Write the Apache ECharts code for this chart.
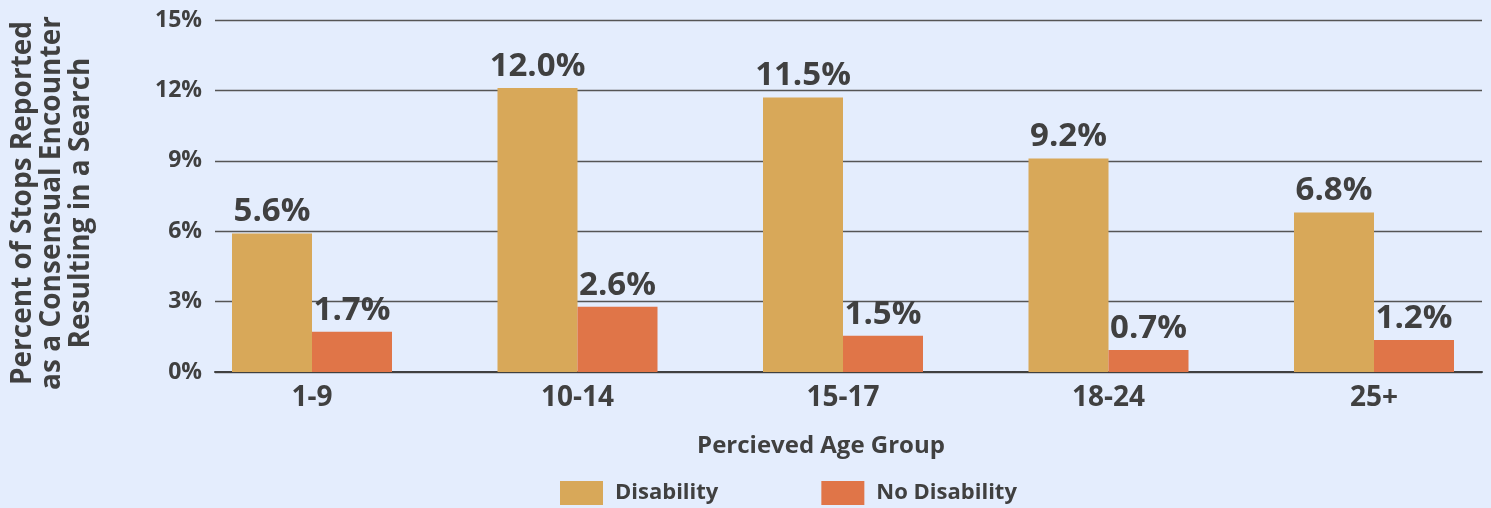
<!DOCTYPE html>
<html>
<head>
<meta charset="utf-8">
<script src="https://cdn.jsdelivr.net/npm/echarts@6/dist/echarts.min.js"></script>
<style>
html,body{margin:0;padding:0;background:#e4edfd;}
#c{width:1491px;height:508px;}
</style>
</head>
<body>
<div id="c"></div>
<script>
const categories = ['1-9', '10-14', '15-17', '18-24', '25+'];
const disability = [5.9, 12.1, 11.7, 9.1, 6.8];
const noDisability = [1.72, 2.78, 1.55, 0.94, 1.36];
const disabilityLabels = ['5.6%', '12.0%', '11.5%', '9.2%', '6.8%'];
const noDisabilityLabels = ['1.7%', '2.6%', '1.5%', '0.7%', '1.2%'];
const yTicks = [0, 3, 6, 9, 12, 15];
const seriesNames = ['Disability', 'No Disability'];
const yTitle = 'Percent of Stops Reported\nas a Consensual Encounter\nResulting in a Search';
const xTitle = 'Percieved Age Group';

const FONT = '"Open Sans", "Noto Sans", sans-serif';
const TXT = '#404040';

const chart = echarts.init(document.getElementById('c'));
const labelStyle = {
  show: true, position: 'top', distance: 5,
  fontFamily: FONT, fontWeight: 'bold', fontSize: 33, color: TXT
};
chart.setOption({
  backgroundColor: '#e4edfd',
  animation: false,
  grid: [
    {left: 215, right: 9, top: 20, bottom: 136},
    {left: 312, width: 1062, top: 20, bottom: 136}
  ],
  legend: {
    left: 560, top: 481, padding: 0,
    itemWidth: 43, itemHeight: 24, itemGap: 103,
    icon: 'rect',
    data: seriesNames,
    textStyle: {fontFamily: FONT, fontWeight: 'bold', fontSize: 22, color: TXT, padding: [0, 0, 0, 7]}
  },
  xAxis: [
    {gridIndex: 0, type: 'category', data: categories,
     axisLine: {show: true, lineStyle: {color: '#404040', width: 2}},
     axisTick: {show: false}, axisLabel: {show: false}, splitLine: {show: false}},
    {gridIndex: 1, type: 'category', data: categories, boundaryGap: false,
     axisLine: {show: false}, axisTick: {show: false}, splitLine: {show: false},
     axisLabel: {show: true, margin: 12, fontFamily: FONT, fontWeight: 'bold', fontSize: 28, color: TXT}}
  ],
  yAxis: [
    {gridIndex: 0, type: 'value', min: yTicks[0], max: yTicks[yTicks.length - 1], interval: yTicks[1] - yTicks[0],
     axisLine: {show: false}, axisTick: {show: false},
     axisLabel: {margin: 13, formatter: '{value}%', fontFamily: FONT, fontWeight: 'bold', fontSize: 23, color: TXT},
     splitLine: {show: true, lineStyle: {color: '#555555', width: 1.3}}},
    {gridIndex: 1, type: 'value', min: yTicks[0], max: yTicks[yTicks.length - 1], show: false}
  ],
  series: [
    {name: seriesNames[0], type: 'bar', xAxisIndex: 1, yAxisIndex: 1, data: disability, clip: false,
     barWidth: 80, barGap: '0%', itemStyle: {color: '#d8a859'},
     label: Object.assign({}, labelStyle, {formatter: p => disabilityLabels[p.dataIndex]})},
    {name: seriesNames[1], type: 'bar', xAxisIndex: 1, yAxisIndex: 1, data: noDisability, clip: false,
     barWidth: 80, barGap: '0%', itemStyle: {color: '#e07548'},
     label: Object.assign({}, labelStyle, {formatter: p => noDisabilityLabels[p.dataIndex]})}
  ],
  graphic: [
    {type: 'text', x: 52, y: 203, rotation: Math.PI / 2,
     style: {text: yTitle, font: 'bold 28px ' + FONT, fill: TXT, align: 'center', verticalAlign: 'middle', lineHeight: 29}},
    {type: 'text', x: 821, y: 446,
     style: {text: xTitle, font: 'bold 24px ' + FONT, fill: TXT, align: 'center', verticalAlign: 'middle'}}
  ]
});
</script>
</body>
</html>
